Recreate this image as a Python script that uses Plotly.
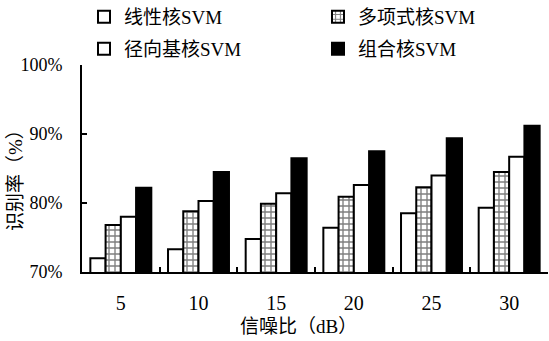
import plotly.graph_objects as go

categories = ["5", "10", "15", "20", "25", "30"]
linear = [72.0, 73.3, 74.8, 76.4, 78.5, 79.3]
poly = [76.8, 78.8, 79.9, 80.9, 82.3, 84.5]
rbf = [78.0, 80.3, 81.4, 82.6, 84.0, 86.7]
combined = [82.2, 84.5, 86.5, 87.5, 89.4, 91.2]
names = ["线性核SVM", "多项式核SVM", "径向基核SVM", "组合核SVM"]
y_ticks = [70, 80, 90, 100]
y_ticktext = ["70%", "80%", "90%", "100%"]

FONT = "Liberation Serif, Noto Sans CJK SC"
L, R, T, B = 82, 1, 65, 69
W, H = 549, 341
pw, ph = W - L - R, H - T - B

fig = go.Figure()
fig.add_bar(x=categories, y=linear, name=names[0], legend="legend",
            marker=dict(color="white", line=dict(color="black", width=2)))
fig.add_bar(x=categories, y=poly, name=names[1], legend="legend",
            marker=dict(color="white", line=dict(color="black", width=2),
                        pattern=dict(shape="+", fgcolor="black", bgcolor="white",
                                     size=6, solidity=0.4)))
fig.add_bar(x=categories, y=rbf, name=names[2], legend="legend2",
            marker=dict(color="white", line=dict(color="black", width=2)))
fig.add_bar(x=categories, y=combined, name=names[3], legend="legend2",
            marker=dict(color="black", line=dict(color="black", width=2)))

def ypx(p):
    return (H - B - p) / ph

def xpx(p):
    return (p - L) / pw

leg = dict(orientation="h", x=xpx(L + 2), xanchor="left", yanchor="middle",
           font=dict(family=FONT, size=19, color="black"),
           entrywidth=189, entrywidthmode="pixels", bgcolor="rgba(0,0,0,0)",
           itemclick=False)
fig.update_layout(
    width=W, height=H,
    margin=dict(l=L, r=R, t=T, b=B, pad=0, autoexpand=False),
    paper_bgcolor="white", plot_bgcolor="white",
    font=dict(family=FONT, size=18, color="black"),
    barmode="group", bargap=0.215, bargroupgap=0,
    legend=dict(leg, y=ypx(17)),
    legend2=dict(leg, y=ypx(49)),
    xaxis=dict(showline=True, linecolor="black", linewidth=2,
               ticks="inside", tickson="boundaries", ticklen=5, tickwidth=2,
               tickcolor="black", showgrid=False, automargin=False,
               tickfont=dict(family=FONT, size=20),
               ticklabelstandoff=12),
    yaxis=dict(range=[70, 100], tickvals=y_ticks, ticktext=y_ticktext,
               showline=True, linecolor="black", linewidth=2,
               ticks="inside", ticklen=5, tickwidth=2, tickcolor="black",
               showgrid=False, zeroline=False, automargin=False,
               tickfont=dict(family=FONT, size=18),
               ticklabelstandoff=14),
    annotations=[
        dict(text="信噪比（dB）", xref="paper", yref="paper",
             x=xpx(298), y=ypx(326), xanchor="center", yanchor="middle",
             showarrow=False, font=dict(family=FONT, size=19)),
        dict(text="识别率（%）", xref="paper", yref="paper",
             x=xpx(15), y=ypx(176), xanchor="center", yanchor="middle",
             textangle=-90, showarrow=False, font=dict(family=FONT, size=19)),
    ],
)
fig.write_html("out.html", config={"displayModeBar": False},
               post_script="document.body.style.margin='0';")
